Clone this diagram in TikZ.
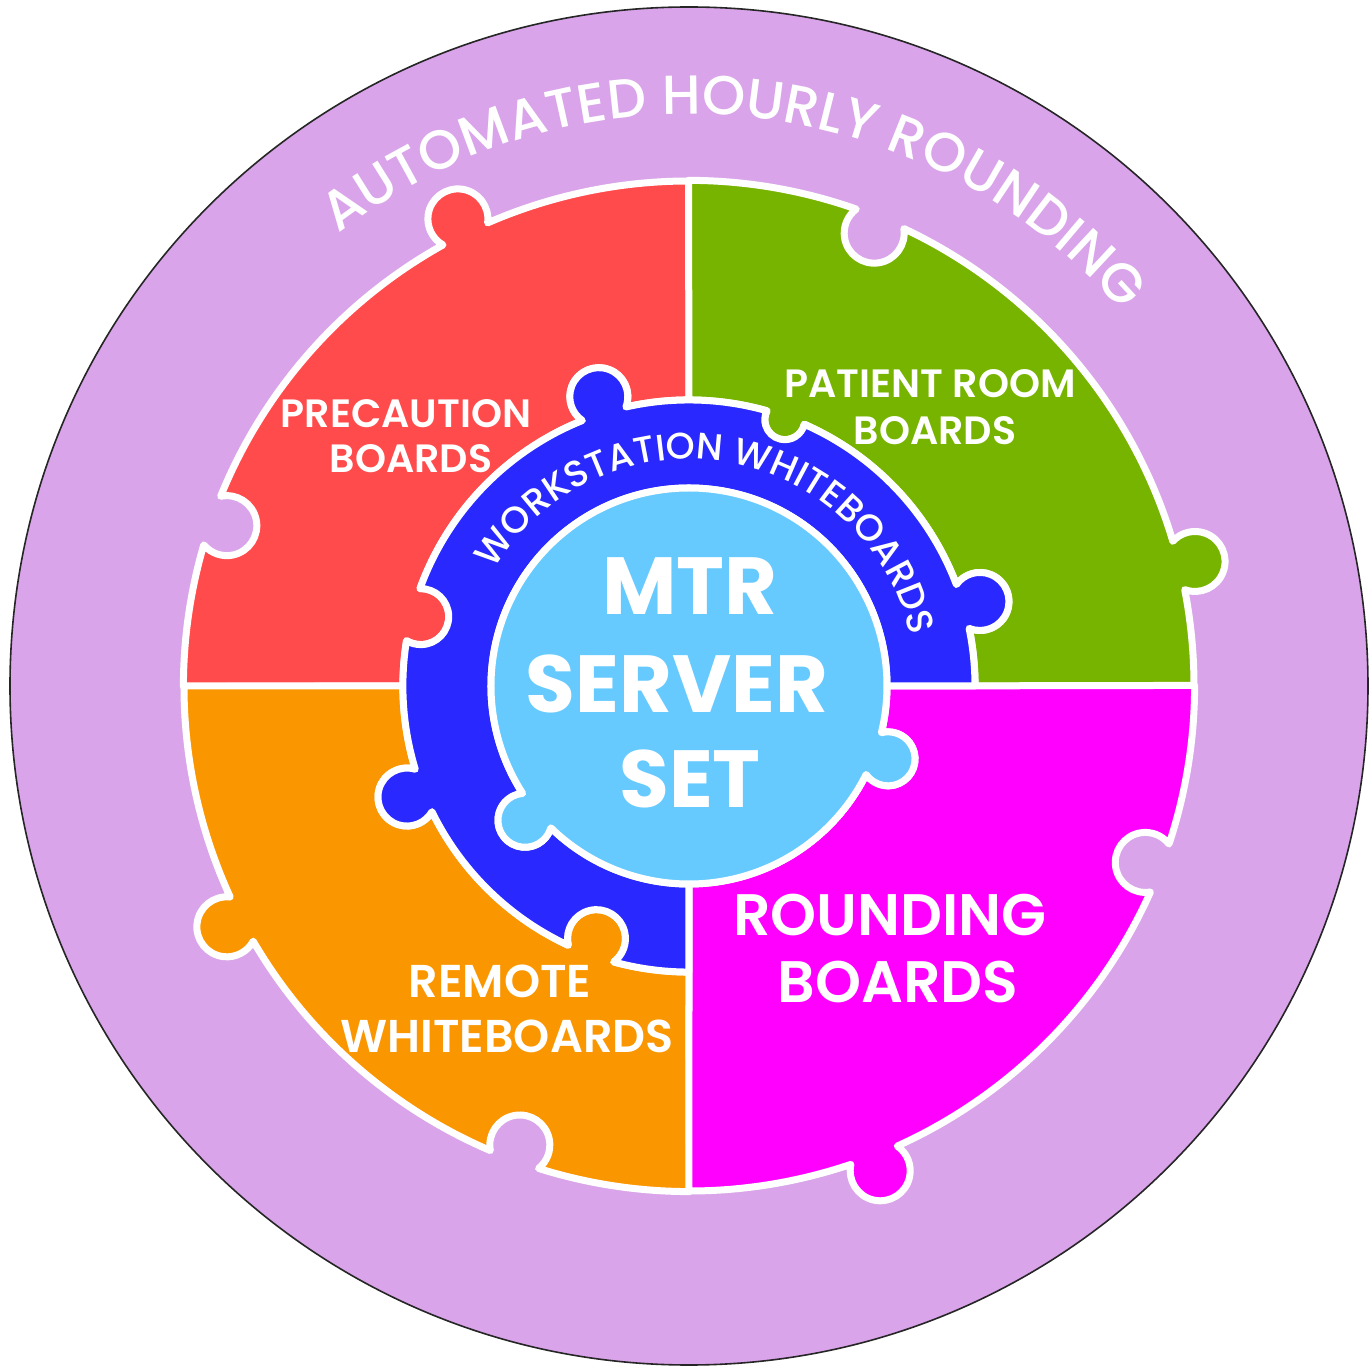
\documentclass[tikz,border=0pt]{standalone}
\usepackage{fontspec}
\setmainfont{Poppins}
\newfontfamily\medfont{Poppins Medium}
\newfontfamily\semifont{Poppins SemiBold}
\usetikzlibrary{decorations.text}
\definecolor{lilac}{HTML}{D9A4E9}
\definecolor{pred}{HTML}{FF4B4B}
\definecolor{pgreen}{HTML}{77B400}
\definecolor{pmag}{HTML}{FF00FF}
\definecolor{porange}{HTML}{FA9600}
\definecolor{pblue}{HTML}{2828FF}
\definecolor{plight}{HTML}{66CAFF}
\makeatletter
\newcommand\startpath{\gdef\ra@acc{}}
\newcommand\addseg[1]{\xdef\ra@acc{\ra@acc #1}}
\newcommand\savepath[1]{\global\expandafter\let\csname #1\endcsname\ra@acc}
% #1 R, #2 start angle, #3 end angle, #4 list angle/h/k (h>0 bulges outward)
\newcommand\ringarc[4]{%
  \xdef\ra@cur{#2}%
  \pgfmathsetmacro\ra@dir{(#3>#2)?1:-1}%
  \foreach \fth/\fh/\fk in {#4} {%
    \pgfmathsetmacro\ra@d{#1+\fh}%
    \pgfmathsetmacro\ra@al{acos(((#1)*(#1)+\ra@d*\ra@d-\fk*\fk)/(2*(#1)*\ra@d))}%
    \pgfmathsetmacro\ra@bA{atan2((#1)*sin(\fth-\ra@al)-\ra@d*sin(\fth),(#1)*cos(\fth-\ra@al)-\ra@d*cos(\fth))}%
    \pgfmathsetmacro\ra@bB{atan2((#1)*sin(\fth+\ra@al)-\ra@d*sin(\fth),(#1)*cos(\fth+\ra@al)-\ra@d*cos(\fth))}%
    \ifdim\ra@dir pt>0pt
      \pgfmathsetmacro\ra@p{\fth-\ra@al}\pgfmathsetmacro\ra@q{\fth+\ra@al}%
      \let\ra@s\ra@bA \let\ra@t\ra@bB
    \else
      \pgfmathsetmacro\ra@p{\fth+\ra@al}\pgfmathsetmacro\ra@q{\fth-\ra@al}%
      \let\ra@s\ra@bB \let\ra@t\ra@bA
    \fi
    \pgfmathsetmacro\ra@kd{\ra@dir*((\fh>0)?1:-1)}%
    \ifdim\ra@kd pt>0pt
      \pgfmathsetmacro\ra@e{\ra@s+mod(\ra@t-\ra@s+720,360)}%
    \else
      \pgfmathsetmacro\ra@e{\ra@s-mod(\ra@s-\ra@t+720,360)}%
    \fi
    \xdef\ra@acc{\ra@acc arc[start angle=\ra@cur,end angle=\ra@p,radius=#1] arc[start angle=\ra@s,end angle=\ra@e,radius=\fk]}%
    \xdef\ra@cur{\ra@q}%
  }%
  \xdef\ra@acc{\ra@acc arc[start angle=\ra@cur,end angle=#3,radius=#1]}%
}
\makeatother
\def\Ro{5.05}
\def\Rb{2.86}
\def\Rl{1.98}
\newcommand\fontOuter{\medfont\fontsize{55}{55}\selectfont}
\newcommand\fontRing{\medfont\fontsize{37}{37}\selectfont}
\newcommand\fontSmall{\semifont\fontsize{39.5}{48}\selectfont}
\newcommand\fontRem{\semifont\fontsize{46}{50}\selectfont}
\newcommand\fontRound{\semifont\fontsize{58.5}{60}\selectfont}
\newcommand\fontCenter{\bfseries\fontsize{81}{90}\selectfont}
\tikzset{
  piece/.style={draw=white, line width=7pt, line join=round},
  lbl/.style={text=white, inner sep=0pt, anchor=base}
}
\begin{document}
\begin{tikzpicture}[x=100pt,y=100pt]
\useasboundingbox[fill=white] (-6.89,-6.82) rectangle (6.80,6.86);
% outer lilac disc
\fill[lilac, draw=black!85, line width=1.6pt] (0,0) circle[radius=6.79];
% red piece
\startpath
\addseg{(90:\Ro)}
\ringarc{\Ro}{90}{180}{116.3/0.16/0.30, 160.8/-0.16/0.30}
\addseg{-- (180:\Rb)}
\ringarc{\Rb}{180}{90}{165.5/-0.09/0.28, 107.3/0.17/0.29}
\addseg{-- cycle}
\savepath{redpath}
% green piece
\startpath
\addseg{(0:\Ro)}
\ringarc{\Ro}{0}{90}{13.8/0.16/0.30, 67.7/-0.16/0.30}
\addseg{-- (90:\Rb)}
\ringarc{\Rb}{90}{0}{70.2/-0.03/0.20, 16.2/0.17/0.29}
\addseg{-- cycle}
\savepath{greenpath}
% orange piece
\startpath
\addseg{(180:\Ro)}
\ringarc{\Ro}{180}{270}{207.5/0.16/0.30, 249.7/-0.16/0.30}
\addseg{-- (270:\Rb)}
\ringarc{\Rb}{270}{180}{249.9/-0.17/0.29, 201.5/0.17/0.29}
\addseg{-- cycle}
\savepath{orangepath}
% magenta piece
\startpath
\addseg{(270:\Ro)}
\ringarc{\Ro}{270}{360}{291.5/0.16/0.30, 338.8/-0.16/0.30}
\addseg{-- (0:\Rl)}
\ringarc{\Rl}{360}{270}{339.9/0.14/0.27}
\addseg{-- cycle}
\savepath{magpath}
% blue ring
\startpath
\addseg{(0:\Rb)}
\ringarc{\Rb}{0}{270}{16.2/0.17/0.29, 70.2/-0.03/0.20, 107.3/0.17/0.29, 165.5/-0.09/0.28, 201.5/0.17/0.29, 249.9/-0.17/0.29}
\addseg{-- (270:\Rl)}
\ringarc{\Rl}{270}{0}{219.3/0.14/0.27}
\addseg{-- cycle}
\savepath{bluepath}
% light blue centre
\startpath
\addseg{(0:\Rl)}
\ringarc{\Rl}{0}{360}{219.3/0.14/0.27, 339.9/0.14/0.27}
\addseg{-- cycle}
\savepath{lightpath}

\path[piece, fill=pred] \redpath;
\path[piece, fill=pgreen] \greenpath;
\path[piece, fill=porange] \orangepath;
\path[piece, fill=pmag] \magpath;
\path[piece, fill=pblue] \bluepath;
\path[piece, fill=plight] \lightpath;

% curved texts
\path[decorate, decoration={text along path, text={|\fontOuter|AUTOMATED HOURLY ROUNDING}, text align=center, text color=white}]
  (174.3:5.72) arc[start angle=174.3, end angle=-5.7, radius=5.72];
\path[decorate, decoration={text along path, text={|\fontRing|WORKSTATION WHITEBOARDS}, text align=center, text color=white}]
  (171:2.27) arc[start angle=171, end angle=-9, radius=2.27];

% labels
\node[lbl, font=\fontSmall] (precA) at (-2.83,2.58) {PRECAUTION};
\node[lbl, font=\fontSmall] (precB) at (-2.78,2.13) {BOARDS};
\node[lbl, font=\fontSmall] (patA) at (2.41,2.88) {PATIENT ROOM};
\node[lbl, font=\fontSmall] (patB) at (2.46,2.41) {BOARDS};
\node[lbl, font=\fontRound] (rndA) at (2.01,-2.49) {ROUNDING};
\node[lbl, font=\fontRound] (rndB) at (2.09,-3.16) {BOARDS};
\node[lbl, font=\fontRem] (remA) at (-1.89,-3.11) {REMOTE};
\node[lbl, font=\fontRem] (remB) at (-1.82,-3.66) {WHITEBOARDS};
\node[lbl, font=\fontCenter] (mtrA) at (0.01,0.71) {MTR};
\node[lbl, font=\fontCenter] (mtrB) at (-0.12,-0.27) {SERVER};
\node[lbl, font=\fontCenter] (mtrC) at (0.01,-1.22) {SET};
\end{tikzpicture}
\end{document}
